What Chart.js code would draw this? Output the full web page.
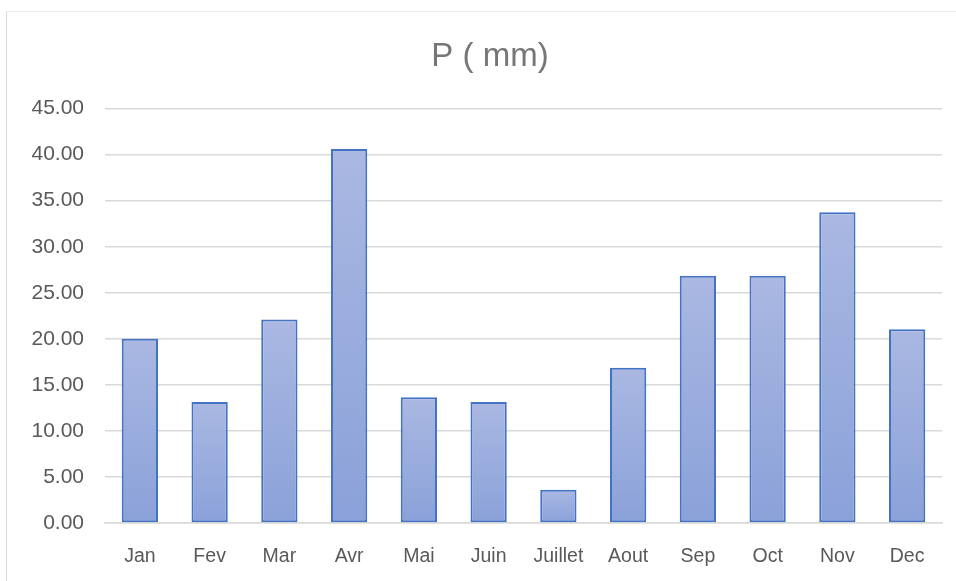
<!DOCTYPE html>
<html>
<head>
<meta charset="utf-8">
<script src="https://cdn.jsdelivr.net/npm/chart.js@4/dist/chart.umd.min.js"></script>
<style>
  html, body { margin: 0; padding: 0; background: #fff; }
  #wrap { position: relative; width: 956px; height: 581px; overflow: hidden; }
  #frame { position: absolute; left: 6px; top: 11px; width: 1000px; height: 1000px; border-left: 1px solid #d9d9d9; border-top: 1px solid #eeeeee; box-sizing: border-box; }
  canvas { position: absolute; left: 0; top: 0; }
</style>
</head>
<body>
<div id="wrap">
  <div id="frame"></div>
  <canvas id="c" width="956" height="581"></canvas>
</div>
<script>
const months = ["Jan", "Fev", "Mar", "Avr", "Mai", "Juin", "Juillet", "Aout", "Sep", "Oct", "Nov", "Dec"];
const precipitation = [20.0, 13.15, 22.1, 40.6, 13.65, 13.15, 3.6, 16.85, 26.85, 26.85, 33.75, 21.05];
const chartTitle = "P ( mm)";

const FONT = "'Liberation Sans', Arial, sans-serif";

function barGradient(ctx) {
  const chart = ctx.chart;
  if (!chart.chartArea || ctx.raw == null) return '#9aafdf';
  const y = chart.scales.y.getPixelForValue(ctx.raw);
  const base = chart.scales.y.getPixelForValue(0);
  const g = chart.ctx.createLinearGradient(0, y, 0, base);
  g.addColorStop(0, '#aab8e2');
  g.addColorStop(1, '#8aa1d9');
  return g;
}

// Centre the title over the chart frame (which starts a little right of the canvas edge)
const titleShift = {
  id: 'titleShift',
  afterLayout(chart) {
    const t = chart.titleBlock;
    if (t) { t.left = 38; t.right = chart.chartArea.right; t.width = t.right - t.left; }
  }
};

new Chart(document.getElementById('c'), {
  type: 'bar',
  data: {
    labels: months,
    datasets: [{
      data: precipitation,
      backgroundColor: barGradient,
      borderColor: '#4472c4',
      borderWidth: 2,
      borderSkipped: false,
      categoryPercentage: 1.0,
      barPercentage: 0.52
    }]
  },
  plugins: [titleShift],
  options: {
    responsive: false,
    animation: false,
    layout: { padding: { left: 0, right: 14, top: 0, bottom: 0 } },
    plugins: {
      legend: { display: false },
      tooltip: { enabled: false },
      title: {
        display: true,
        text: chartTitle,
        color: '#767676',
        font: { family: FONT, size: 33, weight: 'normal' },
        padding: { top: 37, bottom: 32 }
      }
    },
    scales: {
      x: {
        grid: { display: false, drawTicks: false },
        border: { display: true, color: '#d9d9d9', width: 1.5 },
        ticks: { color: '#595959', font: { family: FONT, size: 19.5 }, padding: 22, maxRotation: 0, autoSkip: false },
        afterFit: s => { s.height = 58; }
      },
      y: {
        min: 0,
        max: 45,
        ticks: {
          stepSize: 5,
          color: '#595959',
          font: { family: FONT, size: 21 },
          padding: 21,
          callback: v => Number(v).toFixed(2)
        },
        grid: { color: '#d9d9d9', lineWidth: 1.5, drawTicks: false },
        border: { display: false },
        afterFit: s => { s.width = 105; }
      }
    }
  }
});
</script>
</body>
</html>
